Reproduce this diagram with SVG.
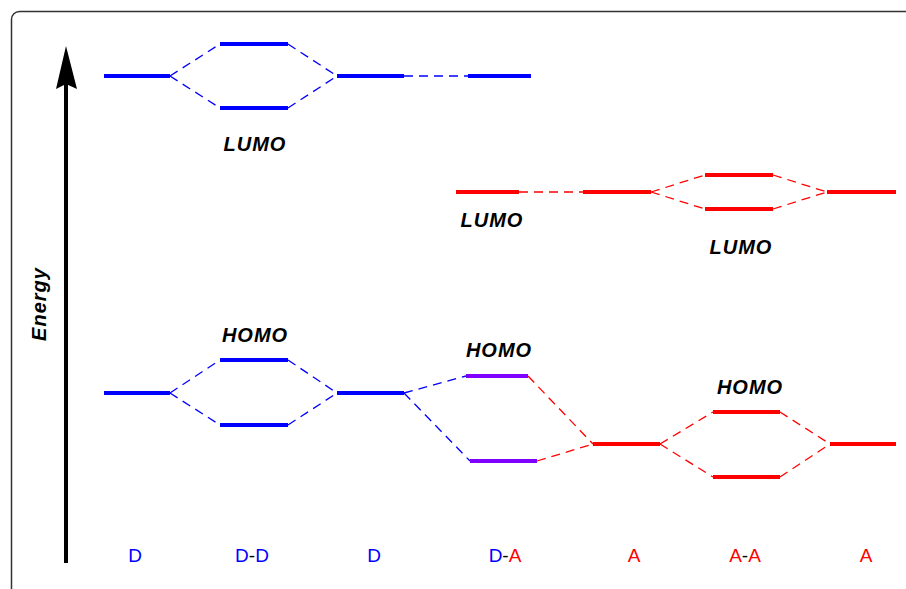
<svg xmlns="http://www.w3.org/2000/svg" width="906" height="589" viewBox="0 0 906 589">
  <style>
    .lvl { stroke-width: 4; fill: none; stroke-linecap: butt; }
    .dash { stroke-width: 1.3; fill: none; stroke-dasharray: 9 6; }
    .blue { stroke: #0000ff; }
    .red { stroke: #ff0000; }
    .purple { stroke: #8000ff; }
    .orb { font-family: "Liberation Sans", Arial, sans-serif; font-size: 20px; font-weight: bold; font-style: italic; fill: #000; text-anchor: middle; letter-spacing: 1px; }
    .sp { font-family: "Liberation Sans", Arial, sans-serif; font-size: 19px; text-anchor: middle; }
  </style>
  <rect width="906" height="589" fill="#fff"/>
  <!-- frame -->
  <rect x="11.5" y="11.5" width="920" height="600" rx="8" fill="none" stroke="#333" stroke-width="1.5"/>

  <!-- energy axis -->
  <g id="axis">
    <line x1="66" y1="563" x2="66" y2="80" stroke="#000" stroke-width="4"/>
    <polygon points="66,46 77,89 66,84 56,89" fill="#000"/>
    <text x="46" y="304" class="orb" transform="rotate(-90 46 304)">Energy</text>
  </g>

  <!-- connectors -->
  <g id="connectors">
    <!-- LUMO, donor side -->
    <polyline class="dash blue" points="170,76 220,44"/>
    <polyline class="dash blue" points="170,76 220,108"/>
    <polyline class="dash blue" points="288,44 337,76"/>
    <polyline class="dash blue" points="288,108 337,76"/>
    <polyline class="dash blue" points="404,76 468,76"/>
    <!-- LUMO, acceptor side -->
    <polyline class="dash red" points="519,192 583,192"/>
    <polyline class="dash red" points="651,192 705,175"/>
    <polyline class="dash red" points="651,192 705,209"/>
    <polyline class="dash red" points="773,175 827,192"/>
    <polyline class="dash red" points="773,209 827,192"/>
    <!-- HOMO, donor side -->
    <polyline class="dash blue" points="170,393 220,360"/>
    <polyline class="dash blue" points="170,393 220,425"/>
    <polyline class="dash blue" points="288,360 337,393"/>
    <polyline class="dash blue" points="288,425 337,393"/>
    <polyline class="dash blue" points="404,393 466,376"/>
    <polyline class="dash blue" points="404,393 470,461"/>
    <!-- HOMO, acceptor side -->
    <polyline class="dash red" points="528,376 593,444"/>
    <polyline class="dash red" points="537,461 593,444"/>
    <polyline class="dash red" points="660,444 713,412"/>
    <polyline class="dash red" points="660,444 713,477"/>
    <polyline class="dash red" points="780,412 830,444"/>
    <polyline class="dash red" points="780,477 830,444"/>
  </g>

  <!-- LUMO levels -->
  <g id="lumo-D1"><line class="lvl blue" x1="104" y1="76" x2="170" y2="76"/></g>
  <g id="lumo-DD"><line class="lvl blue" x1="220" y1="44" x2="288" y2="44"/><line class="lvl blue" x1="220" y1="108" x2="288" y2="108"/></g>
  <g id="lumo-D2"><line class="lvl blue" x1="337" y1="76" x2="404" y2="76"/></g>
  <g id="lumo-DA-D"><line class="lvl blue" x1="468" y1="76" x2="531" y2="76"/></g>
  <g id="lumo-DA-A"><line class="lvl red" x1="456" y1="192" x2="519" y2="192"/></g>
  <g id="lumo-A1"><line class="lvl red" x1="583" y1="192" x2="651" y2="192"/></g>
  <g id="lumo-AA"><line class="lvl red" x1="705" y1="175" x2="773" y2="175"/><line class="lvl red" x1="705" y1="209" x2="773" y2="209"/></g>
  <g id="lumo-A2"><line class="lvl red" x1="827" y1="192" x2="896" y2="192"/></g>

  <!-- HOMO levels -->
  <g id="homo-D1"><line class="lvl blue" x1="104" y1="393" x2="170" y2="393"/></g>
  <g id="homo-DD"><line class="lvl blue" x1="220" y1="360" x2="288" y2="360"/><line class="lvl blue" x1="220" y1="425" x2="288" y2="425"/></g>
  <g id="homo-D2"><line class="lvl blue" x1="337" y1="393" x2="404" y2="393"/></g>
  <g id="homo-DA"><line class="lvl purple" x1="466" y1="376" x2="528" y2="376"/><line class="lvl purple" x1="470" y1="461" x2="537" y2="461"/></g>
  <g id="homo-A1"><line class="lvl red" x1="593" y1="444" x2="660" y2="444"/></g>
  <g id="homo-AA"><line class="lvl red" x1="713" y1="412" x2="780" y2="412"/><line class="lvl red" x1="713" y1="477" x2="780" y2="477"/></g>
  <g id="homo-A2"><line class="lvl red" x1="830" y1="444" x2="896" y2="444"/></g>

  <!-- orbital labels -->
  <g id="labels">
    <text class="orb" x="255" y="151">LUMO</text>
    <text class="orb" x="492" y="227">LUMO</text>
    <text class="orb" x="741" y="254">LUMO</text>
    <text class="orb" x="255" y="342">HOMO</text>
    <text class="orb" x="499" y="357">HOMO</text>
    <text class="orb" x="750" y="394">HOMO</text>
  </g>

  <!-- species labels -->
  <g id="species">
    <text class="sp" x="135" y="562" fill="#0000ff">D</text>
    <text class="sp" x="252" y="562"><tspan fill="#0000ff">D</tspan><tspan fill="#000">-</tspan><tspan fill="#0000ff">D</tspan></text>
    <text class="sp" x="374" y="562" fill="#0000ff">D</text>
    <text class="sp" x="505" y="562"><tspan fill="#0000ff">D</tspan><tspan fill="#000">-</tspan><tspan fill="#ff0000">A</tspan></text>
    <text class="sp" x="634" y="562" fill="#ff0000">A</text>
    <text class="sp" x="745" y="562"><tspan fill="#ff0000">A</tspan><tspan fill="#000">-</tspan><tspan fill="#ff0000">A</tspan></text>
    <text class="sp" x="866" y="562" fill="#ff0000">A</text>
  </g>
</svg>
